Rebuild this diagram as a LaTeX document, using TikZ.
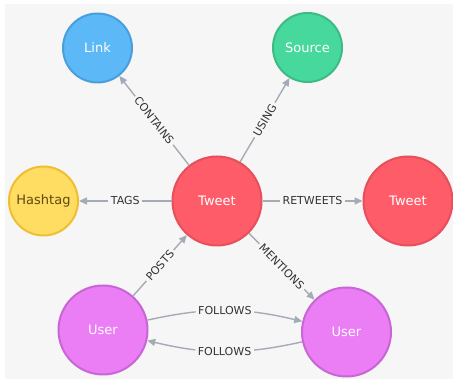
\documentclass[tikz,border=0pt]{standalone}
\usepackage{fontspec}
\setmainfont{DejaVu Sans}
\usepackage{tikz}
\usetikzlibrary{shapes,arrows.meta,positioning,calc}

\definecolor{canvas}{HTML}{F6F6F6}
\definecolor{relgray}{HTML}{A5ABB6}
\definecolor{reltext}{HTML}{333333}
\definecolor{linkfill}{HTML}{5DB8F8}
\definecolor{linkline}{HTML}{4A9FDB}
\definecolor{sourcefill}{HTML}{47D89E}
\definecolor{sourceline}{HTML}{3DBB85}
\definecolor{tweetfill}{HTML}{FF5C69}
\definecolor{tweetline}{HTML}{E64F5C}
\definecolor{tagfill}{HTML}{FFDC62}
\definecolor{tagline}{HTML}{F0BE32}
\definecolor{tagtext}{HTML}{5E4A12}
\definecolor{userfill}{HTML}{EB7DF5}
\definecolor{userline}{HTML}{C966D5}

\begin{document}
\begin{tikzpicture}[on grid,
    entity/.style={circle, line width=2pt, text=white, inner sep=0pt,
      font=\fontsize{13}{15}\selectfont},
    small/.style={entity, minimum size=69pt},
    big/.style={entity, minimum size=89pt},
    rel/.style={draw=relgray, line width=1.4pt, -{Triangle[length=8pt,width=7pt]}},
    rellabel/.style={fill=canvas, text=reltext, inner sep=2.5pt, sloped,
      font=\fontsize{11}{13}\selectfont}]
      \useasboundingbox (0,0) rectangle (453pt,379pt);
      \fill[canvas] (5pt,0) rectangle (453pt,375pt);

      \node[big, fill=tweetfill, draw=tweetline] (tweet) at (217pt,178pt) {Tweet};
      \node[small, fill=linkfill, draw=linkline, above left=153pt and 119.5pt of tweet] (link) {Link};
      \node[small, fill=sourcefill, draw=sourceline, above right=153.5pt and 90.5pt of tweet] (source) {Source};
      \node[small, fill=tagfill, draw=tagline, text=tagtext, left=173.5pt of tweet] (hashtag) {Hashtag};
      \node[big, fill=tweetfill, draw=tweetline, right=191pt of tweet] (retweet) {Tweet};
      \node[big, fill=userfill, draw=userline, below left=129pt and 114pt of tweet] (poster) {User};
      \node[big, fill=userfill, draw=userline, below right=131pt and 129.5pt of tweet] (mentioned) {User};

      \draw[rel] (tweet) -- node[rellabel] {CONTAINS} (link);
      \draw[rel] (tweet) -- node[rellabel] {USING} (source);
      \draw[rel] (tweet) -- node[rellabel] {TAGS} (hashtag);
      \draw[rel] (tweet) -- node[rellabel] {RETWEETS} (retweet);
      \draw[rel] (poster) -- node[rellabel] {POSTS} (tweet);
      \draw[rel] (tweet) -- node[rellabel] {MENTIONS} (mentioned);
      \draw[rel] (poster) to[bend left=13] node[rellabel] {FOLLOWS} (mentioned);
      \draw[rel] (mentioned) to[bend left=13] node[rellabel] {FOLLOWS} (poster);
\end{tikzpicture}
\end{document}
